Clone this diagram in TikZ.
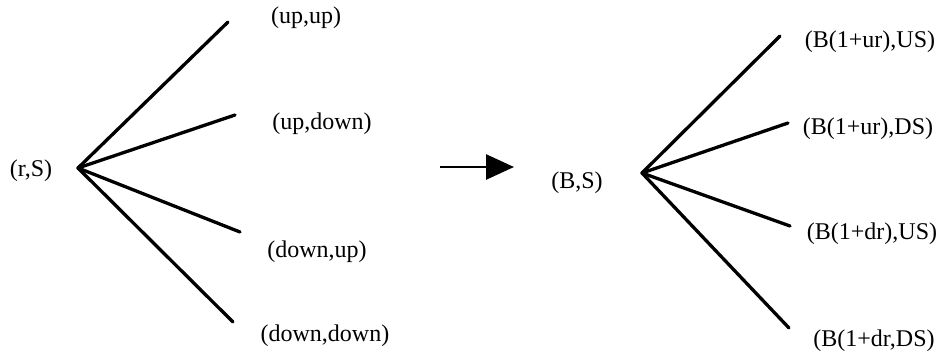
\documentclass[tikz,border=0pt]{standalone}
\usepackage{fontspec}
\setmainfont{Liberation Serif}
\usetikzlibrary{arrows.meta}
\begin{document}
\begin{tikzpicture}[x=1pt,y=-1pt,
  lbl/.style={inner sep=0pt,font=\fontsize{24}{28}\selectfont},
  branch/.style={line width=3.3pt,line cap=round}]
\useasboundingbox (0,0) rectangle (945,353);
% left tree
\coordinate (r) at (78,168);
\coordinate (e1) at (228,22);
\coordinate (e2) at (235,115);
\coordinate (e3) at (240,232);
\coordinate (e4) at (233,322);
\node[lbl] (rs) at (31,171) {(r,S)};
\node[lbl] (uu) at (306,18) {(up,up)};
\node[lbl] (ud) at (322,124) {(up,down)};
\node[lbl] (du) at (317,252) {(down,up)};
\node[lbl] (dd) at (325,336) {(down,down)};
\foreach \e in {e1,e2,e3,e4} \draw[branch] (r) -- (\e);
% arrow
\coordinate (a1) at (440,167);
\coordinate (a2) at (514,167);
\draw[line width=2.7pt,-{Triangle[length=28pt,width=25pt]}] (a1) -- (a2);
% right tree
\coordinate (R) at (642,173);
\coordinate (f1) at (780,36);
\coordinate (f2) at (788,123);
\coordinate (f3) at (790,226);
\coordinate (f4) at (789,328);
\node[lbl] (bs) at (577,183) {(B,S)};
\node[lbl] (b1) at (870,42) {(B(1+ur),US)};
\node[lbl] (b2) at (868,129) {(B(1+ur),DS)};
\node[lbl] (b3) at (872,234) {(B(1+dr),US)};
\node[lbl] (b4) at (874,341) {(B(1+dr,DS)};
\foreach \f in {f1,f2,f3,f4} \draw[branch] (R) -- (\f);
\end{tikzpicture}
\end{document}
